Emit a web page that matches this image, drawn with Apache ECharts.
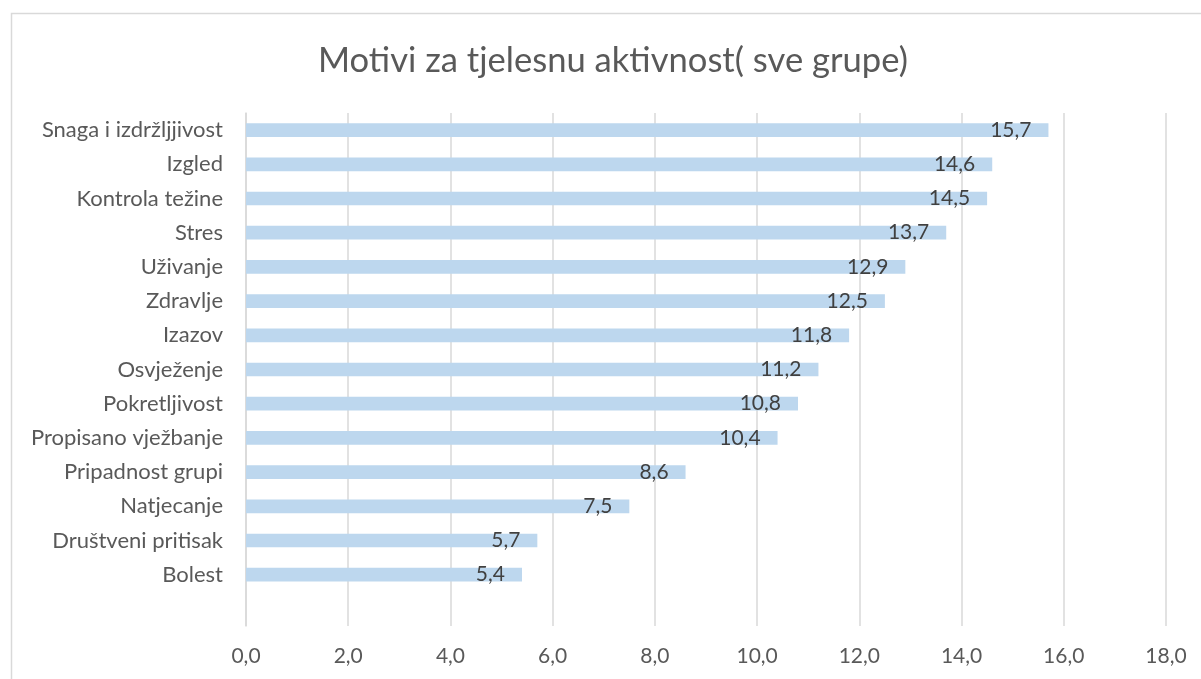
<!DOCTYPE html>
<html>
<head>
<meta charset="utf-8">
<script src="https://cdn.jsdelivr.net/npm/echarts@6/dist/echarts.min.js"></script>
<style>
  html, body { margin: 0; padding: 0; background: #fff; }
  #chart { width: 1201px; height: 679px; }
</style>
</head>
<body>
<div id="chart"></div>
<script>
  // podaci (zadnja kategorija je prazna, kao u originalu)
  var categories = ['Snaga i izdržljjivost', 'Izgled', 'Kontrola težine', 'Stres', 'Uživanje', 'Zdravlje',
    'Izazov', 'Osvježenje', 'Pokretljivost', 'Propisano vježbanje', 'Pripadnost grupi', 'Natjecanje',
    'Društveni pritisak', 'Bolest', ''];
  var values = [15.7, 14.6, 14.5, 13.7, 12.9, 12.5, 11.8, 11.2, 10.8, 10.4, 8.6, 7.5, 5.7, 5.4, null];
  var axisMin = 0, axisMax = 18, axisStep = 2;

  var fmt = function (v) { return Number(v).toFixed(1).replace('.', ','); };
  var font = 'Lato, "Open Sans", sans-serif';

  var myChart = echarts.init(document.getElementById('chart'));
  var option = {
    backgroundColor: '#fff',
    animation: false,
    title: {
      text: 'Motivi za tjelesnu aktivnost( sve grupe)',
      left: 318,
      top: 43,
      padding: 0,
      textStyle: { fontFamily: font, fontSize: 34.6, fontWeight: 'normal', color: '#595959' }
    },
    grid: { left: 246, right: 35, top: 113, bottom: 53 },
    xAxis: {
      type: 'value',
      min: axisMin,
      max: axisMax,
      interval: axisStep,
      axisLine: { show: false },
      axisTick: { show: false },
      splitLine: { lineStyle: { color: '#d9d9d9', width: 1.5 } },
      axisLabel: { formatter: fmt, color: '#595959', fontFamily: font, fontSize: 21, margin: 20 }
    },
    yAxis: {
      type: 'category',
      inverse: true,
      data: categories,
      axisLine: { show: true, lineStyle: { color: '#d9d9d9', width: 1.5 } },
      axisTick: { show: false },
      axisLabel: { color: '#595959', fontFamily: font, fontSize: 22, margin: 23 }
    },
    series: [{
      type: 'bar',
      data: values,
      barWidth: '40%',
      itemStyle: { color: '#bdd7ee' },
      label: {
        show: true,
        position: 'insideRight',
        distance: 17,
        formatter: function (p) { return fmt(p.value); },
        color: '#404040',
        fontFamily: font,
        fontSize: 21
      }
    }],
    graphic: [{
      type: 'rect',
      shape: { x: 11.5, y: 13.5, width: 1250, height: 700 },
      style: { fill: null, stroke: '#d9d9d9', lineWidth: 1.5 },
      silent: true
    }]
  };
  myChart.setOption(option);
</script>
</body>
</html>
